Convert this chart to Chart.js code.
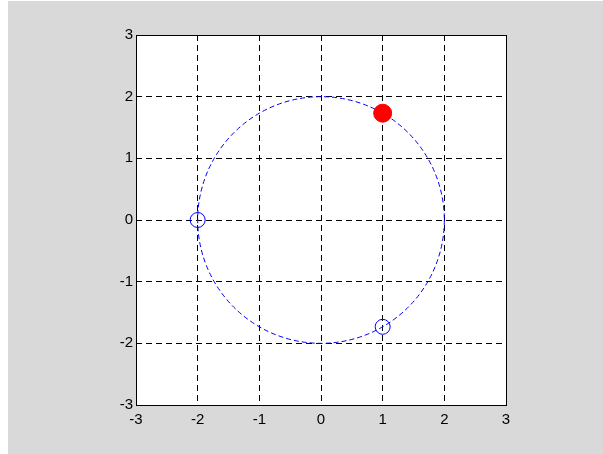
<!DOCTYPE html>
<html>
<head>
<meta charset="utf-8">
<script src="https://cdn.jsdelivr.net/npm/chart.js@4/dist/chart.umd.min.js"></script>
<style>
    html, body { margin: 0; padding: 0; background: #ffffff; }
    #plot { position: absolute; left: 0; top: 0; }
</style>
</head>
<body>
<canvas id="plot" width="603" height="454"></canvas>
<script>
// Axis range and tick labels
const axisTicks = [-3, -2, -1, 0, 1, 2, 3];

// Dashed circle (center x, center y, radius)
const circleCenter = [0, 0];
const circleRadius = [2];

// Filled red point
const filledX = [1];
const filledY = [1.732];

// Open blue points
const openX = [-2, 1];
const openY = [0, -1.732];

// Background: grey figure, white axes box
const backgroundPlugin = {
    id: 'background',
    beforeDraw(chart) {
        const ctx = chart.ctx;
        const a = chart.chartArea;
        ctx.save();
        ctx.fillStyle = '#ffffff';
        ctx.fillRect(0, 0, chart.width, chart.height);
        ctx.fillStyle = '#d9d9d9';
        ctx.fillRect(8, 1, chart.width - 8, chart.height - 1);
        ctx.fillStyle = '#ffffff';
        ctx.fillRect(a.left, a.top, a.right - a.left, a.bottom - a.top);
        ctx.restore();
    }
};

// Dashed circle through the scales, plus solid frame
const circlePlugin = {
    id: 'circle',
    beforeDatasetsDraw(chart) {
        const ctx = chart.ctx;
        const xs = chart.scales.x;
        const ys = chart.scales.y;
        const cx = xs.getPixelForValue(circleCenter[0]);
        const cy = ys.getPixelForValue(circleCenter[1]);
        const rx = Math.abs(xs.getPixelForValue(circleCenter[0] + circleRadius[0]) - cx);
        const ry = Math.abs(ys.getPixelForValue(circleCenter[1] + circleRadius[0]) - cy);
        ctx.save();
        ctx.strokeStyle = '#0000ff';
        ctx.lineWidth = 1;
        ctx.setLineDash([5, 3]);
        ctx.beginPath();
        ctx.ellipse(cx, cy, rx, ry, 0, 0, Math.PI * 2);
        ctx.stroke();
        ctx.restore();
    },
    afterDraw(chart) {
        const ctx = chart.ctx;
        const a = chart.chartArea;
        ctx.save();
        ctx.strokeStyle = '#000000';
        ctx.lineWidth = 1;
        ctx.strokeRect(Math.round(a.left) + 0.5, Math.round(a.top) + 0.5,
            Math.round(a.right - a.left), Math.round(a.bottom - a.top));
        ctx.restore();
    }
};

const tickFont = { family: 'Liberation Sans, Arial, sans-serif', size: 15 };

new Chart(document.getElementById('plot'), {
    type: 'scatter',
    data: {
        datasets: [{
            data: filledX.map((x, i) => ({ x: x, y: filledY[i] })),
            pointRadius: 9,
            pointBackgroundColor: '#ff0000',
            pointBorderColor: '#ff0000',
            pointBorderWidth: 1
        }, {
            data: openX.map((x, i) => ({ x: x, y: openY[i] })),
            pointRadius: 7.5,
            pointBackgroundColor: 'rgba(0,0,0,0)',
            pointBorderColor: '#0000ff',
            pointBorderWidth: 1
        }]
    },
    options: {
        responsive: false,
        animation: false,
        layout: { padding: { left: 0, top: 35, right: 97, bottom: 0 } },
        plugins: {
            legend: { display: false },
            tooltip: { enabled: false }
        },
        scales: {
            x: {
                type: 'linear',
                min: axisTicks[0],
                max: axisTicks[axisTicks.length - 1],
                afterBuildTicks: s => { s.ticks = axisTicks.map(v => ({ value: v })); },
                afterFit: s => { s.height = 49; },
                grid: { color: '#000000', lineWidth: 1, drawTicks: false },
                border: { display: false, dash: [6, 4] },
                ticks: { color: '#000000', font: tickFont, padding: 6, maxRotation: 0 }
            },
            y: {
                type: 'linear',
                min: axisTicks[0],
                max: axisTicks[axisTicks.length - 1],
                afterBuildTicks: s => { s.ticks = axisTicks.map(v => ({ value: v })); },
                afterFit: s => { s.width = 136; },
                grid: { color: '#000000', lineWidth: 1, drawTicks: false },
                border: { display: false, dash: [6, 4] },
                ticks: { color: '#000000', font: tickFont, padding: 3 }
            }
        }
    },
    plugins: [backgroundPlugin, circlePlugin]
});
</script>
</body>
</html>
